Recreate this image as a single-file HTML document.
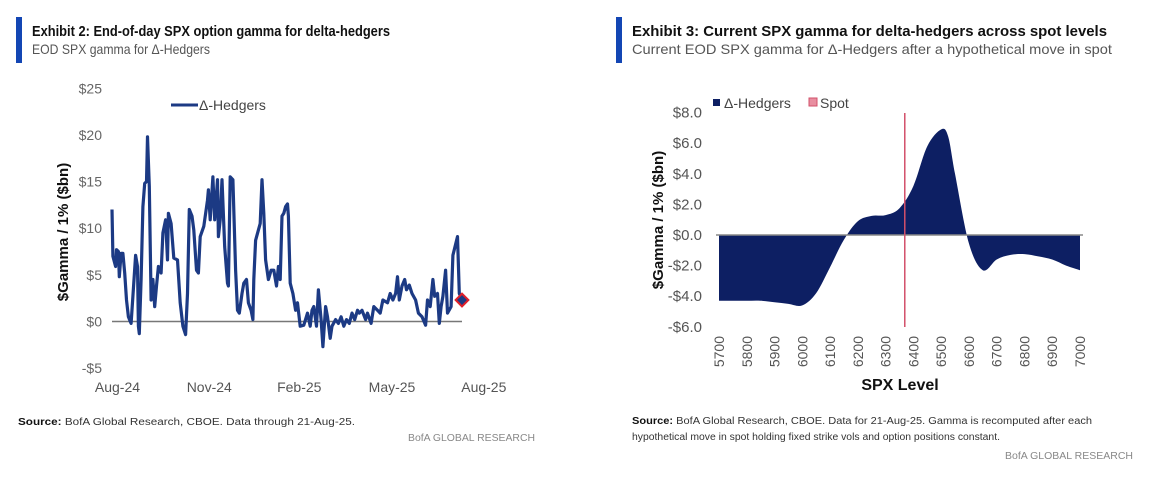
<!DOCTYPE html>
<html><head><meta charset="utf-8"><style>
html,body{margin:0;padding:0;background:#fff;}
svg{display:block;font-family:"Liberation Sans",sans-serif;}
</style></head><body>
<svg id="s" width="1155" height="486" viewBox="0 0 1155 486">
<rect width="1155" height="486" fill="#fff"/>
<g>
<rect x="16" y="17" width="6" height="46" fill="#1346b4"/>
<text x="32" y="36" font-size="15" font-weight="bold" fill="#111" textLength="358" lengthAdjust="spacingAndGlyphs">Exhibit 2: End-of-day SPX option gamma for delta-hedgers</text>
<text x="32" y="54" font-size="14" fill="#555" textLength="178" lengthAdjust="spacingAndGlyphs">EOD SPX gamma for Δ-Hedgers</text>
</g>
<g>
<rect x="616" y="17" width="6" height="46" fill="#1346b4"/>
<text x="632" y="36" font-size="15" font-weight="bold" fill="#111" textLength="475" lengthAdjust="spacingAndGlyphs">Exhibit 3: Current SPX gamma for delta-hedgers across spot levels</text>
<text x="632" y="54" font-size="14" fill="#555" textLength="480" lengthAdjust="spacingAndGlyphs">Current EOD SPX gamma for Δ-Hedgers after a hypothetical move in spot</text>
</g>
<g id="left"></g>
<g id="right"></g>
<g>
<text x="18" y="425" font-size="10" fill="#333" textLength="337" lengthAdjust="spacingAndGlyphs"><tspan font-weight="bold" fill="#111">Source:</tspan> BofA Global Research, CBOE. Data through 21-Aug-25.</text>
<text x="408" y="441" font-size="10" fill="#888" textLength="127" lengthAdjust="spacingAndGlyphs">BofA GLOBAL RESEARCH</text>
<text x="632" y="424" font-size="10" fill="#333" textLength="460" lengthAdjust="spacingAndGlyphs"><tspan font-weight="bold" fill="#111">Source:</tspan> BofA Global Research, CBOE. Data for 21-Aug-25. Gamma is recomputed after each</text>
<text x="632" y="440" font-size="10" fill="#333" textLength="368" lengthAdjust="spacingAndGlyphs">hypothetical move in spot holding fixed strike vols and option positions constant.</text>
<text x="1005" y="459" font-size="10" fill="#888" textLength="128" lengthAdjust="spacingAndGlyphs">BofA GLOBAL RESEARCH</text>
</g>
</svg>
<script>
// ---- Left chart data ----
const days = [0,1,4,5,7,8,10,12,14,16,18,21,23,26,28,29,30,32,34,36,38,39,41,43,45,47,49,51,54,56,59,61,62,65,68,72,75,78,81,83,85,88,90,93,95,97,101,105,106,108,111,113,116,117,119,121,124,127,128,130,133,136,138,140,143,145,148,150,153,155,156,158,161,163,165,167,169,172,175,178,181,183,185,187,189,191,193,194,196,199,202,204,207,211,215,218,220,222,225,227,230,232,235,237,240,242,246,249,252,255,258,261,264,267,270,272,275,279,281,285,288,292,295,298,303,306,309,312,314,316,319,322,324,327,330,334,337,341,345,347,350,353,355,358,360,362,364,367,369,373,375,380,382,385];
const gammaVals = [12.0,7.0,5.9,7.7,7.5,4.8,7.3,7.3,5.2,2.3,0.5,-0.2,2.7,7.1,5.9,-0.5,-1.3,4.5,12.3,14.8,15.0,19.8,14.5,2.3,4.5,1.6,3.8,5.9,5.2,9.5,10.9,6.6,11.6,10.5,6.8,6.6,2.0,-0.5,-1.4,3.0,12.0,11.3,9.8,5.5,5.2,9.1,10.2,13.0,14.1,10.9,15.5,10.9,15.2,9.1,10.9,15.2,8.0,4.1,3.8,15.5,15.2,5.5,1.2,0.9,3.0,4.1,4.5,2.0,1.2,0.2,4.5,8.7,9.8,10.5,15.2,11.6,6.6,4.5,5.5,5.5,3.8,5.9,4.5,11.3,11.6,12.3,12.6,11.3,4.1,3.0,1.2,2.0,-0.5,-0.4,0.9,-0.5,1.2,1.6,-0.5,3.4,0.2,-2.7,1.6,0.5,-1.8,-0.5,0.2,-0.2,0.5,-0.5,0.2,-0.2,0.9,0.2,1.2,0.9,1.2,0.2,0.9,-0.2,1.6,1.2,0.9,2.3,2.0,3.0,2.3,3.0,4.8,2.3,3.8,4.5,3.4,3.9,3.0,2.3,0.9,0.5,-0.4,2.3,1.6,4.5,2.7,3.0,-0.2,1.6,2.7,5.5,0.9,1.6,7.1,9.1,3.0,2.3];
const leftTicks = [25,20,15,10,5,0,-5];
const leftTickLabels = ["$25","$20","$15","$10","$5","$0","-$5"];
const dateLabels = ["Aug-24","Nov-24","Feb-25","May-25","Aug-25"];
const dateLabelDays = [6,107,206,308,409];
// ---- Right chart data ----
const spxLevels = [5700,5750,5800,5850,5900,5950,6000,6050,6100,6150,6200,6250,6300,6350,6400,6450,6500,6525,6550,6600,6650,6700,6750,6800,6850,6900,6950,7000];
const hedgerGamma = [-4.3,-4.3,-4.3,-4.3,-4.4,-4.5,-4.6,-3.8,-2.1,-0.3,0.9,1.25,1.3,1.75,3.2,5.8,6.9,6.45,4.0,-0.55,-2.3,-1.6,-1.3,-1.25,-1.4,-1.6,-2.0,-2.3];
const spotLevel = 6369;
const rightTicks = [8,6,4,2,0,-2,-4,-6];
const rightTickLabels = ["$8.0","$6.0","$4.0","$2.0","$0.0","-$2.0","-$4.0","-$6.0"];
const xTickLevels = [5700,5800,5900,6000,6100,6200,6300,6400,6500,6600,6700,6800,6900,7000];

const NS="http://www.w3.org/2000/svg";
function mk(parent,tag,attrs,text){const e=document.createElementNS(NS,tag);for(const k in attrs)e.setAttribute(k,attrs[k]);if(text!==undefined)e.textContent=text;parent.appendChild(e);return e;}

// Left
const L=document.getElementById('left');
const lx=d=>112+d*(350/385);
const ly=v=>321.5-v*9.33;
leftTicks.forEach((t,i)=>{
  const e=mk(L,'text',{x:102,y:ly(t)+5,'font-size':14,fill:'#666','text-anchor':'end'},leftTickLabels[i]);
  
  
});
dateLabels.forEach((t,i)=>{
  const e=mk(L,'text',{x:lx(dateLabelDays[i]),y:392,'font-size':14,fill:'#555','text-anchor':'middle'},t);
  
  
});
const lt=mk(L,'text',{transform:'translate(68,232) rotate(-90)','font-size':15,'font-weight':'bold',fill:'#111','text-anchor':'middle'},'$Gamma / 1% ($bn)');


const z=mk(L,'line',{x1:112,x2:462,y1:ly(0),y2:ly(0),stroke:'#777','stroke-width':1.5});


let d='';days.forEach((dd,i)=>{d+=(i?'L':'M')+lx(dd).toFixed(1)+','+ly(gammaVals[i]).toFixed(1);});
const ln=mk(L,'path',{d:d,fill:'none',stroke:'#1c3a84','stroke-width':3.2,'stroke-linejoin':'round'});


const lastX=lx(days[days.length-1]),lastY=ly(gammaVals[gammaVals.length-1]);
const dm=mk(L,'rect',{x:lastX-4.5,y:lastY-4.5,width:9,height:9,fill:'#1c3a84',stroke:'#e0202a','stroke-width':2,transform:`rotate(45 ${lastX} ${lastY})`});


const lg=mk(L,'line',{x1:171,x2:198,y1:105,y2:105,stroke:'#1c3a84','stroke-width':3});


const lgt=mk(L,'text',{x:199,y:110,'font-size':14,fill:'#444'},'Δ-Hedgers');



// Right
const R=document.getElementById('right');
const rx=v=>719+(v-5700)*(361/1300);
const ry=v=>235-v*15.3;
rightTicks.forEach((t,i)=>{
  const e=mk(R,'text',{x:702,y:ry(t)+5,'font-size':15,fill:'#555','text-anchor':'end'},rightTickLabels[i]);
  
  
});
xTickLevels.forEach(v=>{
  const e=mk(R,'text',{transform:`translate(${rx(v)+5},336) rotate(-90)`,'font-size':14,fill:'#555','text-anchor':'end'},String(v));
  
  
});
const rt=mk(R,'text',{transform:'translate(663,220) rotate(-90)','font-size':15,'font-weight':'bold',fill:'#111','text-anchor':'middle'},'$Gamma / 1% ($bn)');


const xt=mk(R,'text',{x:900,y:390,'font-size':16,'font-weight':'bold',fill:'#111','text-anchor':'middle'},'SPX Level');


// smooth area
const pts=spxLevels.map((v,i)=>[rx(v),ry(hedgerGamma[i])]);
let p='M'+pts[0][0]+','+ry(0)+' L'+pts[0][0]+','+pts[0][1];
for(let i=0;i<pts.length-1;i++){
  const p0=pts[Math.max(0,i-1)],p1=pts[i],p2=pts[i+1],p3=pts[Math.min(pts.length-1,i+2)];
  const c1=[p1[0]+(p2[0]-p0[0])/6,p1[1]+(p2[1]-p0[1])/6],c2=[p2[0]-(p3[0]-p1[0])/6,p2[1]-(p3[1]-p1[1])/6];
  p+=` C${c1[0].toFixed(1)},${c1[1].toFixed(1)} ${c2[0].toFixed(1)},${c2[1].toFixed(1)} ${p2[0].toFixed(1)},${p2[1].toFixed(1)}`;
}
p+=' L'+pts[pts.length-1][0]+','+ry(0)+' Z';
const ar=mk(R,'path',{d:p,fill:'#0d1f63'});


const rz=mk(R,'line',{x1:716,x2:1083,y1:ry(0),y2:ry(0),stroke:'#888','stroke-width':1.5});


const sp=mk(R,'line',{x1:rx(spotLevel),x2:rx(spotLevel),y1:113,y2:327,stroke:'#d2506a','stroke-width':1.5});


const l1=mk(R,'rect',{x:713,y:99,width:7,height:7,fill:'#0d1f63'});


const l1t=mk(R,'text',{x:724,y:108,'font-size':14,fill:'#444'},'Δ-Hedgers');


const l2=mk(R,'rect',{x:809,y:98,width:8,height:8,fill:'#e88ea0',stroke:'#d2506a','stroke-width':1});


const l2t=mk(R,'text',{x:820,y:108,'font-size':14,fill:'#444'},'Spot');


</script>
</body></html>
